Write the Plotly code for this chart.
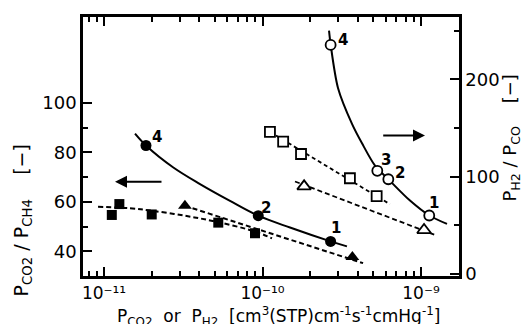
import numpy as np
import plotly.graph_objects as go

# ---- left axis (P_CO2 / P_CH4), filled symbols ----
fc_x = [1.84e-11, 9.4e-11, 2.69e-10]
fc_y = [82.8, 54.4, 44.0]
fc_lbl = ["4", "2", "1"]
fc_lbl_x = [2.15e-11, 1.052e-10, 2.897e-10]
fc_lbl_y = [86.4, 57.6, 49.3]
fc_curve_x = [1.569e-11, 1.84e-11, 2.724e-11, 4.034e-11, 6.237e-11, 9.4e-11, 1.491e-10, 2.69e-10, 3.41e-10]
fc_curve_y = [87.6, 82.8, 74.0, 67.2, 60.4, 54.4, 49.6, 44.0, 42.0]

fs_x = [1.12e-11, 1.25e-11, 2.0e-11, 5.26e-11, 8.97e-11]
fs_y = [54.7, 59.1, 54.9, 51.6, 47.3]
fs_curve_x = [9.17e-12, 1.459e-11, 2.009e-11, 3.24e-11, 5.24e-11, 8.97e-11, 1.148e-10]
fs_curve_y = [58.0, 57.4, 56.4, 54.4, 51.8, 48.0, 45.2]

ft_x = [3.24e-11, 3.69e-10]
ft_y = [58.4, 37.7]
ft_line_x = [3.24e-11, 4.31e-10]
ft_line_y = [58.4, 35.2]

# ---- right axis (P_H2 / P_CO), open symbols ----
oc_x = [2.69e-10, 5.30e-10, 6.22e-10, 1.127e-9]
oc_y = [235.6, 106.0, 97.3, 60.0]
oc_lbl = ["4", "3", "2", "1"]
oc_lbl_x = [3.236e-10, 6.01e-10, 7.37e-10, 1.208e-9]
oc_lbl_y = [241.0, 116.6, 104.0, 73.3]
oc_curve_x = [2.628e-10, 2.693e-10, 2.994e-10, 3.670e-10, 4.244e-10, 5.126e-10, 6.22e-10, 8.52e-10, 1.127e-9, 1.459e-9]
oc_curve_y = [250.3, 235.6, 191.3, 154.3, 134.3, 111.3, 97.3, 75.3, 60.0, 51.3]

os_x = [1.114e-10, 1.35e-10, 1.75e-10, 3.56e-10, 5.25e-10]
os_y = [146.0, 136.0, 123.3, 98.3, 80.0]
os_line_x = [1.114e-10, 6.37e-10]
os_line_y = [146.0, 71.6]

ot_x = [1.83e-10, 1.045e-9]
ot_y = [90.0, 45.0]
ot_line_x = [1.603e-10, 1.225e-9]
ot_line_y = [95.0, 40.0]

# arrows (tail -> head)
arrow_left_x = [2.356e-11, 1.173e-11]
arrow_left_y = 68.1
arrow_right_x = [5.65e-10, 1.06e-9]
arrow_right_y = 142.3

x_major = [1e-11, 1e-10, 1e-9]
x_major_text = ["10⁻¹¹", "10⁻¹⁰", "10⁻⁹"]
x_minor = [8e-12, 9e-12] + [k * 1e-11 for k in range(2, 10)] + [k * 1e-10 for k in range(2, 10)]
yl_major = [40, 60, 80, 100]
yl_minor = [50, 70, 90]
yr_major = [0, 100, 200]
yr_minor = [50, 150, 250]

FONT = "DejaVu Sans"
K = "black"

fig = go.Figure()
dash_a = "5px,3px"
dash_b = "4px,3px"

fig.add_trace(go.Scatter(x=fc_curve_x, y=fc_curve_y, mode="lines", line=dict(color=K, width=2, shape="spline"), yaxis="y"))
fig.add_trace(go.Scatter(x=fs_curve_x, y=fs_curve_y, mode="lines", line=dict(color=K, width=2, dash=dash_a, shape="spline"), yaxis="y"))
fig.add_trace(go.Scatter(x=ft_line_x, y=ft_line_y, mode="lines", line=dict(color=K, width=2, dash=dash_a), yaxis="y"))
fig.add_trace(go.Scatter(x=fc_x, y=fc_y, mode="markers", marker=dict(symbol="circle", size=11, color=K), yaxis="y"))
fig.add_trace(go.Scatter(x=fs_x, y=fs_y, mode="markers", marker=dict(symbol="square", size=10, color=K), yaxis="y"))
fig.add_trace(go.Scatter(x=ft_x, y=ft_y, mode="markers", marker=dict(symbol="triangle-up", size=12, color=K), yaxis="y"))

fig.add_trace(go.Scatter(x=oc_curve_x, y=oc_curve_y, mode="lines", line=dict(color=K, width=2, shape="spline", smoothing=0.8), yaxis="y2"))
fig.add_trace(go.Scatter(x=os_line_x, y=os_line_y, mode="lines", line=dict(color=K, width=1.8, dash=dash_b), yaxis="y2"))
fig.add_trace(go.Scatter(x=ot_line_x, y=ot_line_y, mode="lines", line=dict(color=K, width=1.8, dash=dash_a), yaxis="y2"))
fig.add_trace(go.Scatter(x=oc_x, y=oc_y, mode="markers", marker=dict(symbol="circle", size=10, color="white", line=dict(color=K, width=1.8)), yaxis="y2"))
fig.add_trace(go.Scatter(x=os_x, y=os_y, mode="markers", marker=dict(symbol="square", size=10, color="white", line=dict(color=K, width=1.8)), yaxis="y2"))
fig.add_trace(go.Scatter(x=ot_x, y=ot_y, mode="markers", marker=dict(symbol="triangle-up", size=12, color="white", line=dict(color=K, width=1.8)), yaxis="y2"))

ann = []
for t, x, y in zip(fc_lbl, fc_lbl_x, fc_lbl_y):
    ann.append(dict(x=np.log10(x), y=y, xref="x", yref="y", text="<b>%s</b>" % t, showarrow=False,
                    xanchor="center", yanchor="middle", font=dict(family=FONT, size=15, color=K)))
for t, x, y in zip(oc_lbl, oc_lbl_x, oc_lbl_y):
    ann.append(dict(x=np.log10(x), y=y, xref="x", yref="y2", text="<b>%s</b>" % t, showarrow=False,
                    xanchor="center", yanchor="middle", font=dict(family=FONT, size=15, color=K)))
ann.append(dict(x=np.log10(arrow_left_x[1]), y=arrow_left_y, ax=np.log10(arrow_left_x[0]), ay=arrow_left_y,
                xref="x", yref="y", axref="x", ayref="y", text="", showarrow=True,
                arrowhead=2, arrowsize=1.2, arrowwidth=2, arrowcolor=K))
ann.append(dict(x=np.log10(arrow_right_x[1]), y=arrow_right_y, ax=np.log10(arrow_right_x[0]), ay=arrow_right_y,
                xref="x", yref="y2", axref="x", ayref="y2", text="", showarrow=True,
                arrowhead=2, arrowsize=1.2, arrowwidth=2, arrowcolor=K))
ann.append(dict(x=-0.162, y=0.215, xref="paper", yref="paper", textangle=-90, showarrow=False,
                xanchor="center", yanchor="middle",
                text="P<sub>CO2</sub> / P<sub>CH4</sub>    [−]", font=dict(family=FONT, size=19, color=K)))
ann.append(dict(x=1.138, y=0.534, xref="paper", yref="paper", textangle=-90, showarrow=False,
                xanchor="center", yanchor="middle",
                text="P<sub>H2</sub> / P<sub>CO</sub>    [−]", font=dict(family=FONT, size=18, color=K)))
ann.append(dict(x=0.519, y=-0.155, xref="paper", yref="paper", showarrow=False,
                xanchor="center", yanchor="middle",
                text="P<sub>CO2</sub>  or  P<sub>H2</sub>  [cm<sup>3</sup>(STP)cm<sup>-1</sup>s<sup>-1</sup>cmHg<sup>-1</sup>]",
                font=dict(family=FONT, size=17, color=K)))

axis_common = dict(showline=True, linecolor=K, linewidth=2.5, ticks="inside", tickcolor=K,
                   tickwidth=2, ticklen=9, showgrid=False, zeroline=False,
                   tickfont=dict(family=FONT, size=18, color=K))

# the page body has an 8px margin: figure is 514x316 so it fits the 530x332 window
fig.update_layout(
    width=514, height=316,
    margin=dict(l=75, r=63, t=6, b=48),
    paper_bgcolor="white", plot_bgcolor="white",
    showlegend=False,
    xaxis=dict(type="log", range=[-11.1325, -8.7603], tickmode="array", tickvals=x_major, ticktext=x_major_text,
               mirror="ticks", tickfont=dict(family=FONT, size=17, color=K),
               minor=dict(tickmode="array", tickvals=x_minor, ticks="inside", ticklen=5, tickwidth=2, tickcolor=K),
               **{k: v for k, v in axis_common.items() if k != "tickfont"}),
    yaxis=dict(range=[30, 134.8], tickmode="array", tickvals=yl_major,
               minor=dict(tickmode="array", tickvals=yl_minor, ticks="inside", ticklen=5, tickwidth=2, tickcolor=K),
               **axis_common),
    yaxis2=dict(range=[-2.3, 264.3], overlaying="y", side="right", tickmode="array", tickvals=yr_major,
                minor=dict(tickmode="array", tickvals=yr_minor, ticks="inside", ticklen=5, tickwidth=2, tickcolor=K),
                **axis_common),
    annotations=ann,
)

fig.write_html("out.html")
